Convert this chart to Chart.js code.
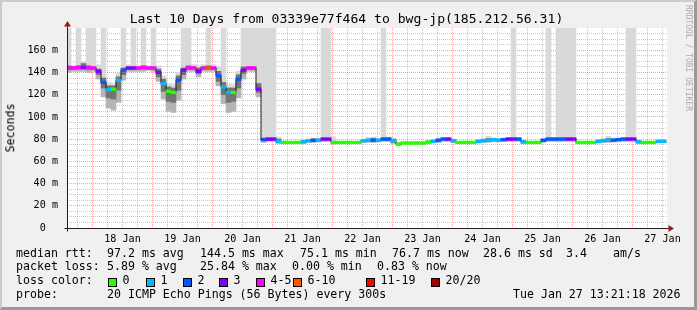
<!DOCTYPE html>
<html>
<head>
<meta charset="utf-8">
<title>Last 10 Days - bwg-jp</title>
<script src="https://cdn.jsdelivr.net/npm/chart.js@4.4.1/dist/chart.umd.min.js"></script>
<style>
  html, body { margin: 0; padding: 0; background: #f0f0f0; }
  #graph { position: relative; width: 697px; height: 310px; overflow: hidden; font-family: 'DejaVu Sans Mono', monospace; color: #000; }
  #shade { position: absolute; left: 0; top: 0; width: 697px; height: 310px; box-sizing: border-box;
           border-style: solid; border-width: 2px 3px 3px 2px; border-color: #cbcbcb #999 #999 #cbcbcb; }
  #rtt { position: absolute; left: 0; top: 0; }
  .t { position: absolute; white-space: pre; line-height: 1; }
  .title { font-size: 13.1px; left: -2px; width: 697px; text-align: center; top: 12.4px; }
  .leg { font-size: 11.6px; }
  .box { position: absolute; width: 7px; height: 7px; border: 1px solid #000; top: 278px; }
  .unit { font-size: 11.6px; left: 10.8px; top: 128px; transform: translate(-50%, -50%) rotate(-90deg); }
  .mark { font-size: 8px; color: #aaa; writing-mode: vertical-rl; left: 684px; top: 5px; }
</style>
</head>
<body>
<div id="graph">
  <div id="shade"></div>
  <canvas id="rtt" width="697" height="310"></canvas>
  <div class="t title" id="title"></div>
  <div class="t unit">Seconds</div>
  <div class="t mark">RRDTOOL / TOBI OETIKER</div>
  <div id="legend"></div>
</div>
<script>
// Smokeping "Last 10 Days" graph for bwg-jp, redrawn with Chart.js

const titleText = 'Last 10 Days from 03339e77f464 to bwg-jp(185.212.56.31)';

// time axis: hours after 17 Jan 00:00
const startHour = 13.8;
const endHour = 253.8;
const firstSample = 14.4;
const sampleStep = 2;

const dayLabels = ['18 Jan', '19 Jan', '20 Jan', '21 Jan', '22 Jan', '23 Jan', '24 Jan', '25 Jan', '26 Jan', '27 Jan'];

// median rtt (ms), one value every 2 hours
const medianRtt = [
  144, 144, 144.5, 144.5, 144, 144,
  141, 131, 124.5, 125, 133, 142,
  144, 144, 144, 144.5, 144, 144,
  140, 130, 123, 122, 133, 142,
  144, 144, 141, 144, 144, 144,
  137, 127, 122, 122, 134, 142,
  144, 144, 125,
  79.5, 80, 80, 78,
  77, 77, 77, 77,
  77.5, 78.5, 79, 79, 80, 80,
  77, 77, 77, 77, 77, 77,
  78.5, 79, 79, 79, 80, 80,
  78.5, 75.5,
  76.5, 76.5, 76.5, 76.5, 76.5,
  77.5, 78, 79, 80, 80,
  78.5, 77, 77, 77, 77,
  78, 78.5, 79, 79.5, 79, 79.5,
  80, 80, 80,
  77.5, 77, 77, 77,
  79, 80, 80, 80, 80, 80, 80,
  77, 77, 77, 77,
  78, 78.5, 79, 79, 79.5, 80, 80, 80,
  77.5, 77, 77, 77,
  78, 78
];

// lost pings out of 20
const lostPings = [
  4, 4, 4, 3, 4, 4,
  3, 2, 1, 0, 1, 2,
  3, 3, 4, 4, 4, 4,
  3, 1, 0, 0, 2, 3,
  4, 4, 3, 4, 7, 4,
  2, 1, 1, 0, 2, 3,
  4, 4, 3,
  2, 3, 3, 1,
  0, 0, 0, 0,
  1, 1, 2, 1, 3, 3,
  0, 0, 0, 0, 0, 0,
  1, 1, 2, 1, 2, 2,
  1, 0,
  0, 0, 0, 0, 0,
  0, 1, 2, 2, 3,
  1, 0, 0, 0, 0,
  1, 1, 1, 1, 1, 2,
  3, 3, 2,
  1, 0, 0, 0,
  2, 2, 2, 2, 2, 3, 3,
  0, 0, 0, 0,
  1, 1, 1, 2, 2, 2, 3, 3,
  1, 0, 0, 0,
  1, 1
];

// smoke: lowest / inner low / inner high / highest ping (180 = off the top)
const smokeMin = [
  140, 141, 141, 141, 140, 141,
  134, 118, 108, 106, 113, 133,
  141, 141, 141, 141, 142, 141,
  132, 116, 105, 104, 115, 134,
  141, 141, 136, 141, 141, 141,
  128, 112, 104, 105, 117, 134,
  141, 141, 118,
  77, 78, 78, 76,
  76, 76, 76, 76,
  76, 77, 77, 77.5, 78, 78,
  75.5, 76, 76, 76, 76, 76,
  77, 77, 77, 77.5, 78, 78,
  76, 74.5,
  75.5, 75.5, 75.5, 75.5, 75.5,
  76, 77, 77, 78, 78,
  77, 76, 76, 76, 76,
  76.5, 77, 77, 77.5, 77.5, 78,
  78, 78, 78,
  76, 76, 76, 76,
  77, 78, 78, 78, 78, 78, 78,
  76, 76, 76, 76,
  76.5, 77, 77, 77.5, 78, 78, 78, 78,
  76, 76, 76, 76,
  77, 77
];
const smokeLo = [
  143, 143, 143, 143, 143, 143,
  138, 126, 117, 116, 124, 138,
  143, 143, 143, 143, 143, 143,
  136, 123, 114, 113, 124, 138,
  143, 143, 139, 143, 143, 143,
  132, 120, 113, 114, 126, 139,
  143, 143, 122,
  79, 79, 79, 77,
  76.5, 76.5, 76.5, 76.5,
  77, 78, 78, 78, 79, 79,
  76.5, 76.5, 76.5, 76.5, 76.5, 76.5,
  78, 78.5, 78.5, 78.5, 79.5, 79.5,
  77, 75,
  76, 76, 76, 76, 76,
  77, 77.5, 78.5, 79.5, 79.5,
  77.5, 76.5, 76.5, 76.5, 76.5,
  77.5, 78, 78.5, 79, 78.5, 79,
  79.5, 79.5, 79.5,
  77, 76.5, 76.5, 76.5,
  78.5, 79.5, 79.5, 79.5, 79.5, 79.5, 79.5,
  76.5, 76.5, 76.5, 76.5,
  77.5, 78, 78.5, 78.5, 79, 79.5, 79.5, 79.5,
  77, 76.5, 76.5, 76.5,
  77.5, 77.5
];
const smokeHi = [
  146, 145, 146, 148, 146, 145,
  143, 135, 128, 128, 136, 144,
  145, 145, 145, 146, 145, 145,
  143, 134, 127, 126, 137, 144,
  146, 145, 144, 145, 146, 145,
  141, 131, 126, 126, 138, 145,
  145, 145, 130,
  81, 81, 81, 80,
  78, 77.5, 77.5, 77.5,
  78.5, 79.5, 80, 80, 81, 81,
  78, 77.5, 77.5, 77.5, 77.5, 77.5,
  79, 80, 80.5, 80, 81, 81,
  80, 76.5,
  77, 77, 77, 77, 77,
  78, 79, 80, 81, 81,
  79.5, 77.5, 77.5, 77.5, 77.5,
  79, 79.5, 80.5, 80.5, 80, 80.5,
  81, 81, 81,
  78.5, 77.5, 77.5, 77.5,
  80, 81, 81, 81, 81, 81, 81,
  77.5, 77.5, 77.5, 77.5,
  79, 79.5, 80.5, 80, 80.5, 81, 81, 81,
  78.5, 77.5, 77.5, 77.5,
  78.5, 79
];
const smokeMax = [
  180, 146, 180, 150, 180, 180,
  147, 180, 131, 130, 139, 180,
  147, 180, 146, 180, 146, 180,
  146, 137, 130, 129, 140, 180,
  180, 147, 146, 147, 180, 147,
  145, 180, 129, 129, 141, 180,
  180, 180, 180,
  180, 180, 180, 82,
  78.5, 78, 78, 78,
  80, 80, 81, 81, 180, 180,
  82, 78, 78, 78, 78, 78,
  79.5, 81.5, 82, 80.5, 180, 82,
  81, 77,
  77.5, 77.5, 77.5, 77.5, 77.5,
  79, 79.5, 81, 81.5, 81.5,
  80, 78, 78, 78, 78,
  80, 81, 82.5, 81, 80.5, 81,
  81.5, 180, 81.5,
  79, 78, 78, 78,
  80.5, 180, 81.5, 180, 180, 180, 180,
  78, 78, 78, 78,
  79.5, 81, 82.5, 81, 81, 81.5, 180, 180,
  79, 78, 78, 78,
  79, 80
];

const lossLabels = ['0', '1', '2', '3', '4-5', '6-10', '11-19', '20/20'];
const lossLimits = [0, 1, 2, 3, 5, 10, 19, 20];
const lossColors = ['#26ff00', '#00b8ff', '#0059ff', '#7e00ff', '#ff00ff', '#ff5500', '#ff0000', '#a10000'];

const rttStats = ['97.2 ms avg', '144.5 ms max', '75.1 ms min', '76.7 ms now', '28.6 ms sd', '3.4', 'am/s'];
const lossStats = ['5.89 % avg', '25.84 % max', '0.00 % min', '0.83 % now'];
const probeText = '20 ICMP Echo Pings (56 Bytes) every 300s';
const stampText = 'Tue Jan 27 13:21:18 2026';

// legend layout (px)
const lineTops = [247.5, 261.3, 275.1, 288.5];
const rttX = [107, 200, 300, 392, 483, 566, 613];
const lossX = [107, 200, 292, 377];
const boxX = [108, 146, 183, 219, 256, 293, 366, 431];

const majorGrid = 'rgba(230,30,30,0.42)';
const minorGrid = 'rgba(120,120,120,0.4)';
const axisFont = { family: 'DejaVu Sans Mono', size: 10.15 };

const hours = medianRtt.map((_, i) => firstSample + i * sampleStep);

function lossColor(n) {
  const idx = lossLimits.findIndex(lim => n <= lim);
  return lossColors[idx < 0 ? lossColors.length - 1 : idx];
}

// Build the text parts
document.getElementById('title').textContent = titleText;
const legend = document.getElementById('legend');
function addText(x, top, text) {
  const el = document.createElement('div');
  el.className = 't leg';
  el.style.left = x + 'px';
  el.style.top = top + 'px';
  el.textContent = text;
  legend.appendChild(el);
}
addText(16, lineTops[0], 'median rtt:');
rttStats.forEach((s, i) => addText(rttX[i], lineTops[0], s));
addText(16, lineTops[1], 'packet loss:');
lossStats.forEach((s, i) => addText(lossX[i], lineTops[1], s));
addText(16, lineTops[2], 'loss color:');
lossLabels.forEach((s, i) => {
  const b = document.createElement('div');
  b.className = 'box';
  b.style.left = boxX[i] + 'px';
  b.style.background = lossColors[i];
  legend.appendChild(b);
  addText(boxX[i] + 14.5, lineTops[2], s);
});
addText(16, lineTops[3], 'probe:');
addText(107, lineTops[3], probeText);
addText(513, lineTops[3], stampText);

// Chart data
const band = (lo, hi) => lo.map((v, i) => ({ x: hours[i], y: [v, hi[i]] }));
const barStyle = { type: 'bar', grouped: false, barPercentage: 1, categoryPercentage: 1, borderWidth: 0 };

const gridHours = [];
for (let h = Math.ceil(startHour / 6) * 6; h < endHour; h += 6) gridHours.push(h);
const gridMs = [];
for (let v = 0; v < 180; v += 5) gridMs.push(v);

const rrdFrame = {
  id: 'rrdFrame',
  beforeDraw(chart) {
    const { ctx, chartArea: a } = chart;
    ctx.save();
    ctx.fillStyle = '#ffffff';
    ctx.fillRect(a.left, a.top, a.right - a.left, a.bottom - a.top);
    ctx.restore();
  },
  afterDraw(chart) {
    const { ctx, chartArea: a } = chart;
    const x0 = Math.round(a.left) + 0.5;
    const y0 = Math.round(a.bottom) + 0.5;
    ctx.save();
    ctx.strokeStyle = '#202020';
    ctx.lineWidth = 1;
    ctx.beginPath();
    ctx.moveTo(x0 - 3, y0); ctx.lineTo(a.right + 3, y0);
    ctx.moveTo(x0, y0 + 3); ctx.lineTo(x0, a.top - 4);
    ctx.stroke();
    ctx.fillStyle = '#9c1c1c';
    ctx.beginPath();
    ctx.moveTo(x0, a.top - 7); ctx.lineTo(x0 - 3.5, a.top - 1.5); ctx.lineTo(x0 + 3.5, a.top - 1.5);
    ctx.closePath(); ctx.fill();
    ctx.beginPath();
    ctx.moveTo(a.right + 7, y0); ctx.lineTo(a.right + 1.5, y0 - 3.5); ctx.lineTo(a.right + 1.5, y0 + 3.5);
    ctx.closePath(); ctx.fill();
    ctx.restore();
  }
};

new Chart(document.getElementById('rtt'), {
  type: 'bar',
  data: {
    datasets: [
      { ...barStyle, label: 'loss color',
        data: medianRtt.map((v, i) => ({ x: hours[i], y: [v - 1.2, v + 1.2] })),
        backgroundColor: lostPings.map(lossColor), order: 1 },
      { type: 'line', label: 'median rtt',
        data: medianRtt.map((v, i) => ({ x: hours[i], y: v })),
        stepped: 'middle', borderColor: '#202020', borderWidth: 1, pointRadius: 0, order: 2 },
      { ...barStyle, label: 'smoke core', data: band(smokeLo, smokeHi), backgroundColor: '#747474', order: 3 },
      { ...barStyle, label: 'smoke low', data: band(smokeMin, smokeLo), backgroundColor: '#b4b4b4', order: 4 },
      { ...barStyle, label: 'smoke high', data: band(smokeHi, smokeMax), backgroundColor: '#d9d9d9', order: 5 }
    ]
  },
  options: {
    responsive: false,
    animation: false,
    devicePixelRatio: 1,
    layout: { padding: { left: 0, top: 28, right: 30, bottom: 0 } },
    plugins: { legend: { display: false }, tooltip: { enabled: false } },
    scales: {
      x: {
        type: 'linear', min: startHour, max: endHour, offset: false, z: 1,
        afterBuildTicks: s => { s.ticks = gridHours.map(v => ({ value: v })); },
        afterFit: s => { s.height = 82; },
        grid: { offset: false, drawTicks: false, lineWidth: 1,
                color: c => (c.tick && c.tick.value % 24 === 0) ? majorGrid : minorGrid },
        border: { display: false, dash: [1, 1] },
        ticks: { autoSkip: false, maxRotation: 0, padding: 5, color: '#000', font: axisFont,
                 callback: v => v % 24 === 12 ? dayLabels[(v - 36) / 24] : '' }
      },
      y: {
        min: 0, max: 180, z: 1,
        afterBuildTicks: s => { s.ticks = gridMs.map(v => ({ value: v })); },
        afterFit: s => { s.width = 67; },
        grid: { drawTicks: false, lineWidth: 1,
                color: c => (c.tick && c.tick.value % 20 === 0) ? majorGrid : minorGrid },
        border: { display: false, dash: [1, 1] },
        ticks: { autoSkip: false, padding: 9, color: '#000', font: axisFont,
                 callback: v => v === 0 ? '0  ' : (v % 20 === 0 ? v + ' m' : '') }
      }
    }
  },
  plugins: [rrdFrame]
});
</script>
</body>
</html>
